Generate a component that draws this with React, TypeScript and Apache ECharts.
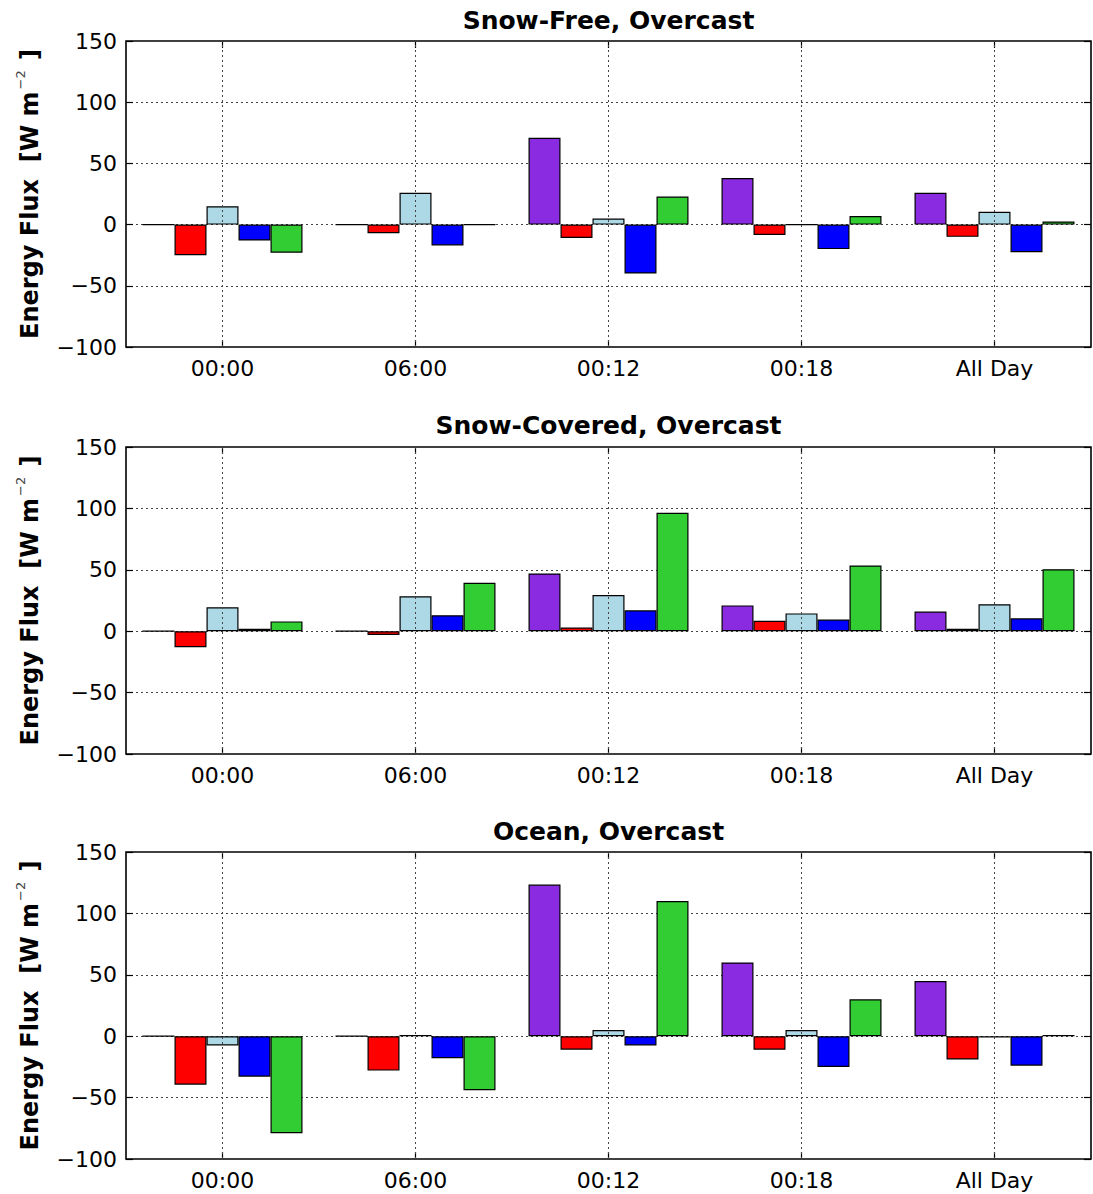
import React, { useEffect, useRef } from 'react';
import * as echarts from 'echarts';

const categories = ['00:00', '06:00', '00:12', '00:18', 'All Day'];
const panelTitles = ['Snow-Free, Overcast', 'Snow-Covered, Overcast', 'Ocean, Overcast'];
const yMin = -100;
const yMax = 150;
const yInterval = 50;

const seriesNames = ['Flux 1', 'Flux 2', 'Flux 3', 'Flux 4', 'Flux 5'];
const seriesColors = ['#8A2BE2', '#FF0000', '#ADD8E6', '#0000FF', '#32CD32'];

// Snow-Free, Overcast
const snowFreePurple = [0, 0, 71, 38, 26];
const snowFreeRed = [-25, -7, -11, -8.5, -10];
const snowFreeLightBlue = [15, 26, 5, 0, 10.5];
const snowFreeBlue = [-13, -17, -40, -20, -22.5];
const snowFreeGreen = [-23, 0, 23, 7, 2.5];

// Snow-Covered, Overcast
const snowCoveredPurple = [0, 0, 47, 21, 16];
const snowCoveredRed = [-13, -3, 3, 8.5, 2];
const snowCoveredLightBlue = [19.5, 28.5, 29.5, 14.5, 22];
const snowCoveredBlue = [2, 13, 17, 9.5, 10.5];
const snowCoveredGreen = [8, 39.5, 96.5, 53.5, 50.5];

// Ocean, Overcast
const oceanPurple = [0, 0, 123.5, 60, 45];
const oceanRed = [-39.5, -28, -11, -11, -19];
const oceanLightBlue = [-7.5, 1, 5, 5, -1];
const oceanBlue = [-33, -18, -7.5, -25, -24];
const oceanGreen = [-79, -44, 110, 30, 1];

const panels = [
  [snowFreePurple, snowFreeRed, snowFreeLightBlue, snowFreeBlue, snowFreeGreen],
  [snowCoveredPurple, snowCoveredRed, snowCoveredLightBlue, snowCoveredBlue, snowCoveredGreen],
  [oceanPurple, oceanRed, oceanLightBlue, oceanBlue, oceanGreen],
];

const FONT = 'DejaVu Sans';
const gridTops = [41, 447, 852];
const gridHeights = [306, 307, 307];
const titleTops = [8, 413, 819];
const PLOT_LEFT = 126;
const PLOT_WIDTH = 965;

const minusFmt = (v: number) => (v < 0 ? '\u2212' + Math.abs(v) : String(v));

function buildOption() {
  const grid: any[] = [];
  const xAxis: any[] = [];
  const yAxis: any[] = [];
  const series: any[] = [];
  const title: any[] = [];

  const dotted = { color: '#444', width: 1, type: [2, 3] as any };
  const tickStyle = { color: '#000', width: 1.2 };

  panels.forEach((panel, p) => {
    grid.push({
      left: PLOT_LEFT,
      width: PLOT_WIDTH,
      top: gridTops[p],
      height: gridHeights[p],
      show: true,
      borderColor: '#000',
      borderWidth: 1.6,
      backgroundColor: 'transparent',
    });
    title.push({
      text: panelTitles[p],
      left: PLOT_LEFT + PLOT_WIDTH / 2,
      top: titleTops[p],
      textAlign: 'center',
      textVerticalAlign: 'top',
      padding: 0,
      textStyle: { fontFamily: FONT, fontSize: 25, fontWeight: 'bold', color: '#000' },
    });
    xAxis.push({
      type: 'category',
      gridIndex: p,
      data: categories,
      position: 'bottom',
      boundaryGap: true,
      axisLine: { show: false, onZero: false },
      axisTick: { show: true, inside: true, alignWithLabel: true, length: 7, lineStyle: tickStyle },
      axisLabel: { fontFamily: FONT, fontSize: 22, color: '#000', margin: 10 },
      splitLine: { show: false },
    });
    xAxis.push({
      type: 'category',
      gridIndex: p,
      data: categories,
      position: 'top',
      boundaryGap: true,
      axisLine: { show: false, onZero: false },
      axisTick: { show: true, inside: true, alignWithLabel: true, length: 7, lineStyle: tickStyle },
      axisLabel: { show: false },
      splitLine: { show: false },
    });
    yAxis.push({
      type: 'value',
      gridIndex: p,
      position: 'left',
      min: yMin,
      max: yMax,
      interval: yInterval,
      axisLine: { show: false, onZero: false },
      axisTick: { show: true, inside: true, length: 7, lineStyle: tickStyle },
      axisLabel: { fontFamily: FONT, fontSize: 22, color: '#000', margin: 9, formatter: minusFmt },
      splitLine: { show: true, lineStyle: dotted },
      name: '{t|Energy Flux  [W m}{s|\u22122}{t| ]}',
      nameLocation: 'middle',
      nameGap: 84,
      nameRotate: 90,
      nameTextStyle: {
        fontFamily: FONT,
        fontSize: 24,
        fontWeight: 'bold',
        color: '#000',
        rich: {
          t: { fontFamily: FONT, fontSize: 24, fontWeight: 'bold', color: '#000', lineHeight: 28, verticalAlign: 'bottom' },
          s: { fontFamily: FONT, fontSize: 13, fontWeight: 'normal', color: '#444', lineHeight: 28, verticalAlign: 'top', padding: [0, 2, 0, 2] },
        },
      },
    });
    yAxis.push({
      type: 'value',
      gridIndex: p,
      position: 'right',
      min: yMin,
      max: yMax,
      interval: yInterval,
      axisLine: { show: false, onZero: false },
      axisTick: { show: true, inside: true, length: 7, lineStyle: tickStyle },
      axisLabel: { show: false },
      splitLine: { show: false },
    });

    panel.forEach((values, s) => {
      const item: any = {
        type: 'bar',
        name: seriesNames[s],
        xAxisIndex: p * 2,
        yAxisIndex: p * 2,
        data: values,
        barWidth: 32,
        barGap: '0%',
        itemStyle: { color: seriesColors[s], borderColor: '#000', borderWidth: 1.2 },
        emphasis: { disabled: true },
      };
      // middle series sits on the category centre: vertical dotted grid lines
      if (s === 2) {
        item.markLine = {
          silent: true,
          symbol: ['none', 'none'],
          label: { show: false },
          lineStyle: dotted,
          emphasis: { disabled: true },
          data: categories.map((c) => ({ xAxis: c })),
        };
      }
      series.push(item);
    });
  });

  return {
    animation: false,
    backgroundColor: '#fff',
    textStyle: { fontFamily: FONT },
    title,
    grid,
    xAxis,
    yAxis,
    series,
  };
}

export default function App() {
  const ref = useRef<HTMLDivElement>(null);
  useEffect(() => {
    if (!ref.current) return;
    const chart = echarts.init(ref.current, undefined, { renderer: 'svg' });
    chart.setOption(buildOption() as any);
    return () => chart.dispose();
  }, []);
  return (
    <div
      ref={ref}
      style={{ position: 'absolute', left: 0, top: 0, width: 1093, height: 1194, background: '#fff' }}
    />
  );
}
